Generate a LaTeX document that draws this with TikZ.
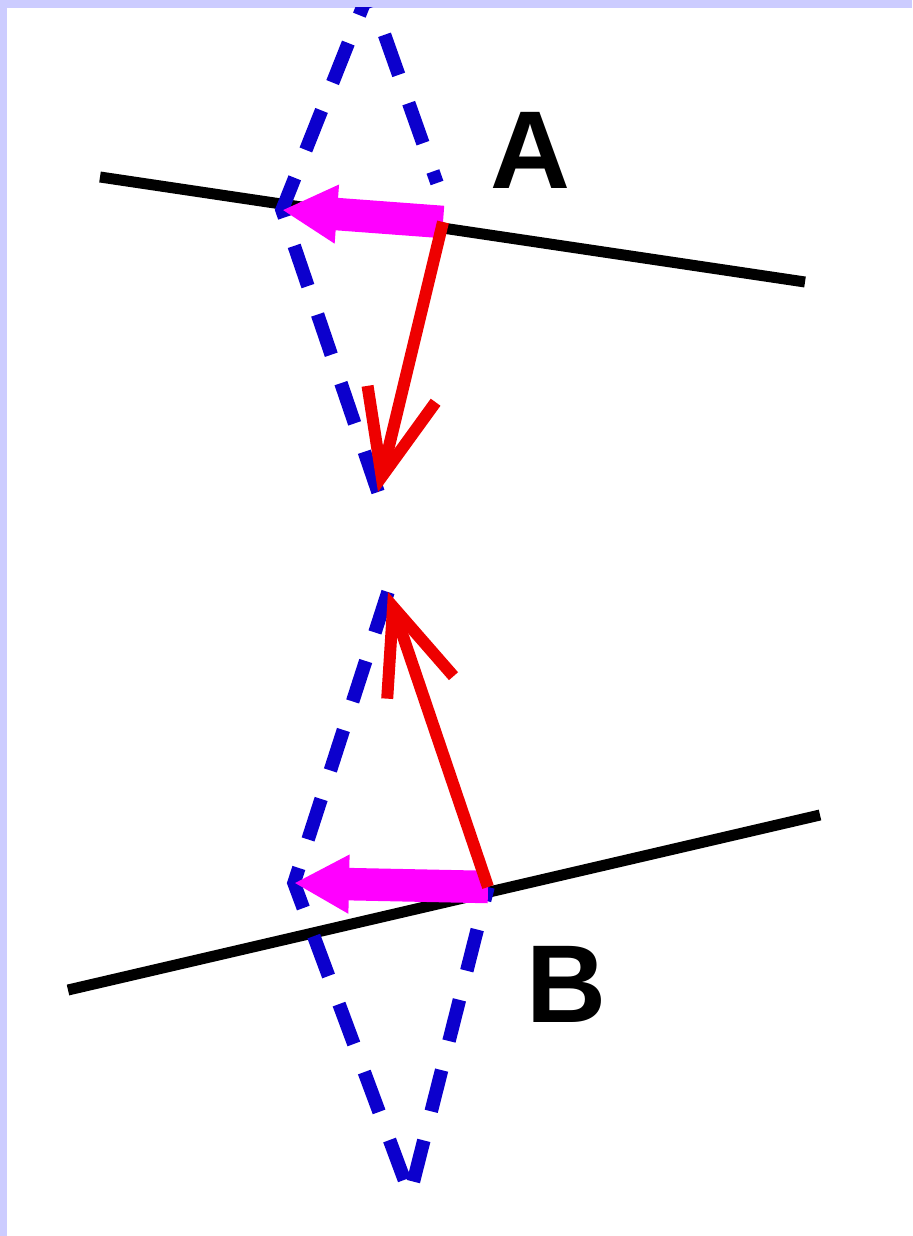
\documentclass[tikz,border=0pt]{standalone}
\usepackage{fontspec}
\setmainfont{Liberation Sans}
\usetikzlibrary{arrows.meta}
\definecolor{lavender}{RGB}{204,204,255}
\definecolor{rayblue}{RGB}{12,0,205}
\definecolor{vecred}{RGB}{238,0,0}
\definecolor{vecmagenta}{RGB}{255,0,255}

\begin{document}
\begin{tikzpicture} %mirror rays
      [
      x=0.2mm, y=-0.2mm,
      mirror/.style={draw=black, line width=2.2mm},
      ray/.style={draw=rayblue, line width=2.7mm, dash pattern=on 8.5mm off 6mm},
      redvec/.style={draw=vecred, line width=2.4mm, -{Straight Barb[length=17mm,width=14mm]}},
      tanvec/.style={draw=vecmagenta, line width=6.5mm, -{Triangle[length=11mm,width=11mm]}},
      letter/.style={font=\fontsize{63}{63}\selectfont\bfseries, inner sep=0pt}
      ]
      \useasboundingbox (0,0) rectangle (912,1236);
      \fill[lavender] (0,0) rectangle (912,1236);
      \fill[white] (7,8) rectangle (912,1236);
      \coordinate (s1) at (100,177);  \coordinate (s2) at (805,282);
      \coordinate (t1) at (68,990);   \coordinate (t2) at (820,815);
      \coordinate (A) at (443,222);   \coordinate (Ap) at (282,210);
      \coordinate (At) at (437,183);  \coordinate (T) at (369,-9);
      \coordinate (F1) at (378,492);
      \coordinate (B) at (488,887);   \coordinate (Bp) at (294,883);
      \coordinate (G) at (410,1195);  \coordinate (F2) at (388,592);
      \node[letter] (labA) at (530,150) {A};
      \node[letter] (labB) at (566,984) {B};
      \begin{scope}
        \clip (7,8) rectangle (912,1236);
        \draw[mirror] (s1) -- (s2);  \draw[mirror] (t1) -- (t2);
        \draw[ray] (F1) -- (Ap) -- (T) -- (At);
        \draw[ray] (F2) -- (Bp) -- (G) -- (B);
        \draw[tanvec] (A) -- (Ap);  \draw[tanvec] (B) -- (Bp);
        \draw[redvec] (A) -- (F1);  \draw[redvec] (B) -- (F2);
      \end{scope}
\end{tikzpicture}
\end{document}
